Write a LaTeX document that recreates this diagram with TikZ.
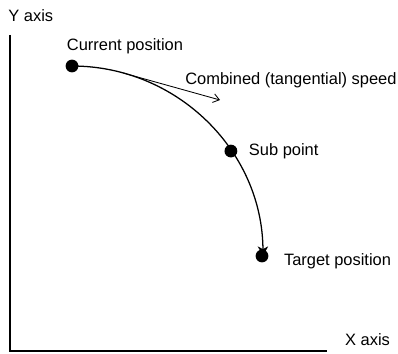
\documentclass[tikz,border=0pt]{standalone}
\usepackage{fontspec}
\setmainfont{Liberation Sans}
\usetikzlibrary{positioning, arrows.meta}

\begin{document}
\begin{tikzpicture}[font=\fontsize{11.7}{14}\selectfont,
    every node/.style={inner sep=3.33pt},
    dot/.style={circle, fill=black, inner sep=0pt, minimum size=0.32cm}]
    \useasboundingbox (0,0) rectangle (9.95,8.825);

    % Add the axes
    \coordinate (origin) at (0.25,0.05);
    \coordinate (ytop) at (0.25,7.95);
    \coordinate (xend) at (8.175,0.05);
    \draw[line width=1.4pt] (ytop) -- (origin) -- (xend);

    % Add the points
    \coordinate (ctr) at (1.8,2.4);
    \node[dot] (cur) at ([shift={(90:4.775)}]ctr) {};
    \node[dot] (sub) at ([shift={(33.7:4.775)}]ctr) {};
    \node[dot] (tgt) at (6.55,2.425) {};

    % Add the labels
    \node[above right=0.07cm and -0.37cm of cur] (curlbl) {Current position};
    \node[right=0.16cm of sub] (sublbl) {Sub point};
    \node[right=0.26cm of tgt, yshift=-0.14cm] (tgtlbl) {Target position};
    \node[above=0.21cm of ytop, xshift=0.52cm] (ylbl) {Y axis};
    \node[above right=0cm and 0.33cm of xend] (xlbl) {X axis};

    % Add the path and the speed
    \draw[line width=0.9pt,
          -{Stealth[length=0.24cm, width=0.26cm, inset=0.07cm]}]
        (cur.center) arc[start angle=90, end angle=0.3, radius=4.775];
    \coordinate (touch) at ([shift={(74.4:4.775)}]ctr);
    \coordinate (tip) at (5.5,6.325);
    \draw[line width=0.6pt, -{Straight Barb[length=0.15cm, width=0.22cm]}]
        (touch) -- (tip);
    \node[right] (spdlbl) at (4.51,6.83) {Combined (tangential) speed};
\end{tikzpicture}
\end{document}
